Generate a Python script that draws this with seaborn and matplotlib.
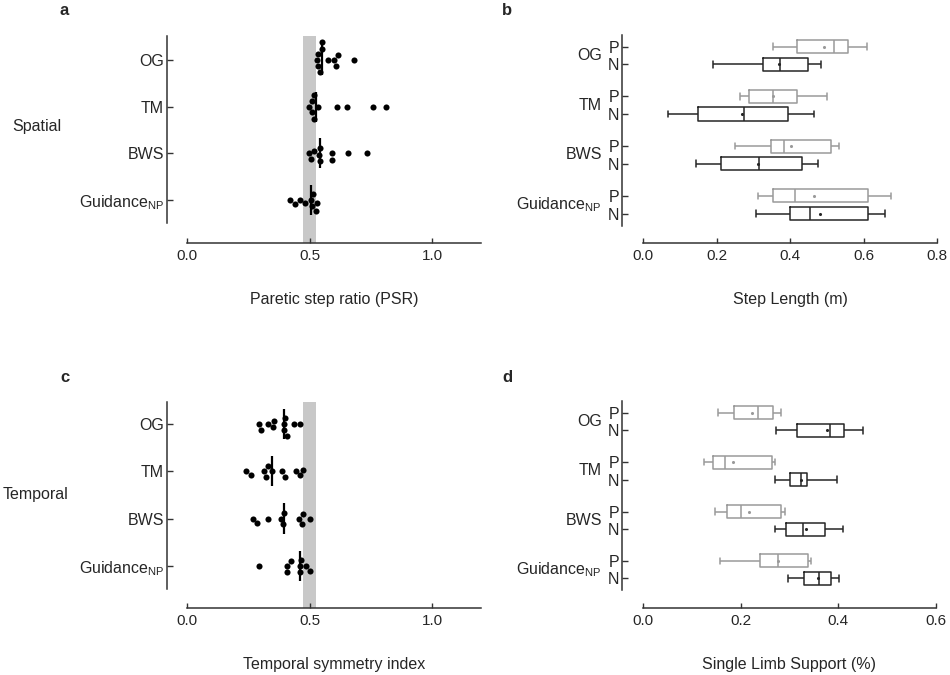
import matplotlib
import matplotlib.pyplot as plt

matplotlib.use("Agg")
import numpy as np
import pandas as pd
import seaborn as sns

conditions = ["OG", "TM", "BWS", "Guidance$_{NP}$"]
sides = ["P", "N"]

# panel a: paretic step ratio, one dot per participant
psr_og = [0.529, 0.552, 0.543, 0.616, 0.536, 0.574, 0.609, 0.683, 0.550, 0.601, 0.535]
psr_tm = [0.517, 0.510, 0.510, 0.535, 0.612, 0.653, 0.759, 0.811, 0.499, 0.517]
psr_bws = [0.505, 0.542, 0.592, 0.656, 0.733, 0.497, 0.520, 0.542, 0.592, 0.539]
psr_gd = [0.509, 0.529, 0.420, 0.441, 0.461, 0.483, 0.516, 0.506, 0.528]

# panel c: temporal symmetry index
tsi_og = [0.408, 0.302, 0.352, 0.396, 0.331, 0.435, 0.463, 0.294, 0.356, 0.396, 0.400]
tsi_tm = [0.316, 0.475, 0.241, 0.261, 0.329, 0.389, 0.444, 0.463, 0.324, 0.346, 0.401]
tsi_bws = [0.382, 0.468, 0.268, 0.287, 0.329, 0.501, 0.393, 0.457, 0.475, 0.396]
tsi_gd = [0.461, 0.408, 0.294, 0.426, 0.464, 0.487, 0.408, 0.461, 0.502]

# panel b: step length, five-number summaries (min, q1, median, q3, max) and means
step_p_og = [0.353, 0.420, 0.521, 0.559, 0.610]
step_n_og = [0.191, 0.326, 0.373, 0.450, 0.483]
step_p_tm = [0.263, 0.289, 0.354, 0.420, 0.501]
step_n_tm = [0.067, 0.151, 0.275, 0.395, 0.465]
step_p_bws = [0.249, 0.347, 0.384, 0.512, 0.532]
step_n_bws = [0.145, 0.213, 0.317, 0.432, 0.477]
step_p_gd = [0.312, 0.354, 0.414, 0.613, 0.675]
step_n_gd = [0.307, 0.401, 0.455, 0.611, 0.658]
step_p_mean = [0.493, 0.354, 0.402, 0.465]
step_n_mean = [0.369, 0.269, 0.312, 0.482]

# panel d: single limb support
sls_p_og = [0.154, 0.186, 0.235, 0.266, 0.283]
sls_n_og = [0.272, 0.316, 0.382, 0.412, 0.451]
sls_p_tm = [0.124, 0.143, 0.168, 0.265, 0.270]
sls_n_tm = [0.271, 0.302, 0.323, 0.335, 0.397]
sls_p_bws = [0.147, 0.171, 0.200, 0.283, 0.290]
sls_n_bws = [0.270, 0.292, 0.328, 0.373, 0.409]
sls_p_gd = [0.157, 0.240, 0.277, 0.337, 0.345]
sls_n_gd = [0.296, 0.330, 0.361, 0.384, 0.401]
sls_p_mean = [0.224, 0.185, 0.218, 0.277]
sls_n_mean = [0.376, 0.323, 0.334, 0.358]

side_colors = {"P": "#9a9a9a", "N": "#262626"}
AXIS_COLOR = "#333333"
BOX_W = 0.71

sns.set_style("ticks")
plt.rcParams["font.family"] = ["Liberation Sans", "DejaVu Sans"]
plt.rcParams["mathtext.default"] = "regular"
plt.rcParams["font.size"] = 11.5


def style_axes(ax, ylim, spine_end, left_offset):
    sns.despine(ax=ax)
    ax.set_ylim(ylim)
    ax.spines["left"].set_bounds(ylim[1], spine_end)
    ax.spines["left"].set_position(("outward", left_offset))
    for side in ["left", "bottom"]:
        ax.spines[side].set_color(AXIS_COLOR)
        ax.spines[side].set_linewidth(1.1)
    ax.tick_params(axis="x", direction="in", length=3.6, width=1, color=AXIS_COLOR,
                   labelsize=11, pad=4)
    ax.tick_params(axis="y", direction="in", length=4.3, width=1, color=AXIS_COLOR,
                   labelsize=11.5, pad=2)


def dot_panel(ax, groups, xlabel, ylim, spine_end):
    df = pd.DataFrame({
        "condition": np.repeat(conditions, [len(g) for g in groups]),
        "value": np.concatenate(groups),
    })
    ax.axvspan(0.475, 0.525, color="#c8c8c8", lw=0, zorder=0)
    sns.swarmplot(data=df, x="value", y="condition", order=conditions, color="black",
                  size=4.4, ax=ax, zorder=3)
    sns.boxplot(data=df, x="value", y="condition", order=conditions, width=0.64,
                showbox=False, showcaps=False, showfliers=False,
                whiskerprops={"visible": False},
                medianprops={"color": "black", "linewidth": 1.6},
                ax=ax, zorder=4)
    ax.set_xlim(0, 1.2)
    ax.set_xticks([0, 0.5, 1.0], ["0.0", "0.5", "1.0"])
    ax.set_xlabel(xlabel, labelpad=21)
    ax.set_ylabel("")
    style_axes(ax, ylim, spine_end, 14.4)


def box_panel(ax, p_stats, n_stats, p_mean, n_mean, xmax, xlabel, ylim, spine_end):
    rows = []
    for cond, ps, ns in zip(conditions, p_stats, n_stats):
        rows += [(cond, "P", v) for v in ps]
        rows += [(cond, "N", v) for v in ns]
    df = pd.DataFrame(rows, columns=["condition", "side", "value"])
    sns.boxplot(data=df, x="value", y="condition", hue="side", order=conditions,
                hue_order=sides, palette=side_colors, fill=False, width=BOX_W,
                gap=0.26, whis=(0, 100), linewidth=1.1, legend=False, ax=ax)
    dodge = BOX_W / 4
    idx = np.arange(len(conditions))
    ax.scatter(p_mean, idx - dodge, s=5, color=side_colors["P"], zorder=5, lw=0)
    ax.scatter(n_mean, idx + dodge, s=5, color=side_colors["N"], zorder=5, lw=0)

    ticks = np.sort(np.concatenate([idx - dodge, idx + dodge]))
    ax.set_yticks(ticks, sides * len(conditions))
    for i, cond in enumerate(conditions):
        ax.annotate(cond, xy=(0, i), xycoords=("axes fraction", "data"),
                    xytext=(-41, 0), textcoords="offset pixels",
                    ha="right", va="center", fontsize=11.5)
    ax.set_xlim(0, xmax)
    xt = np.arange(0, xmax + 0.01, 0.2)
    ax.set_xticks(xt, [f"{v:.1f}" for v in xt])
    ax.set_xlabel(xlabel, labelpad=21)
    ax.set_ylabel("")
    style_axes(ax, ylim, spine_end, 15.1)


fig = plt.figure(figsize=(9.5, 6.75), dpi=100)
ax_a = fig.add_axes([187 / 950, 0.64, 294 / 950, 207 / 675])
ax_b = fig.add_axes([643 / 950, 0.64, 294 / 950, 208 / 675])
ax_c = fig.add_axes([187 / 950, 67 / 675, 294 / 950, 206 / 675])
ax_d = fig.add_axes([643 / 950, 67 / 675, 293 / 950, 207 / 675])

dot_panel(ax_a, [psr_og, psr_tm, psr_bws, psr_gd], "Paretic step ratio (PSR)",
          (3.92, -0.514), 3.49)
dot_panel(ax_c, [tsi_og, tsi_tm, tsi_bws, tsi_gd], "Temporal symmetry index",
          (3.89, -0.465), 3.49)
box_panel(ax_b, [step_p_og, step_p_tm, step_p_bws, step_p_gd],
          [step_n_og, step_n_tm, step_n_bws, step_n_gd], step_p_mean, step_n_mean,
          0.8, "Step Length (m)", (3.77, -0.41), 3.42)
box_panel(ax_d, [sls_p_og, sls_p_tm, sls_p_bws, sls_p_gd],
          [sls_n_og, sls_n_tm, sls_n_bws, sls_n_gd], sls_p_mean, sls_n_mean,
          0.6, "Single Limb Support (%)", (3.775, -0.415), 3.41)

for letter, x, y in [("a", 60, 15), ("b", 502, 15), ("c", 60, 382), ("d", 502, 382)]:
    fig.text(x / 950, 1 - y / 675, letter, fontsize=12, fontweight="bold", va="baseline")
fig.text(12 / 950, 1 - 127 / 675, "Spatial", fontsize=11.5, va="center")
fig.text(3 / 950, 1 - 494 / 675, "Temporal", fontsize=11.5, va="center")

fig.savefig("out.png", dpi=100)
